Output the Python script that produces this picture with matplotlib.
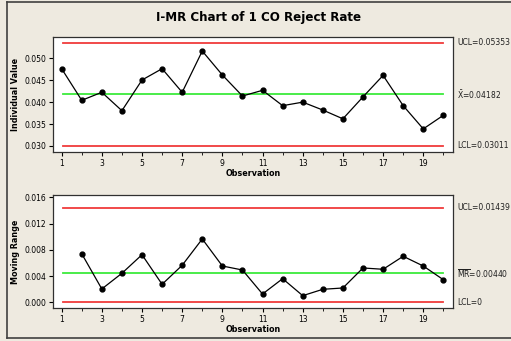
import matplotlib
matplotlib.use("Agg")
import matplotlib.pyplot as plt
from matplotlib.ticker import MultipleLocator

# I-MR chart data
obs = list(range(1, 21))
values = [0.04763, 0.04042, 0.04225, 0.03805, 0.04505, 0.04763, 0.04225, 0.05166,
          0.04619, 0.04140, 0.04270, 0.03920, 0.04000, 0.03820, 0.03620, 0.04120,
          0.04610, 0.03920, 0.03390, 0.03700]
mr_obs = list(range(2, 21))
mr = [0.00740, 0.00203, 0.00442, 0.00725, 0.00274, 0.00564, 0.00965, 0.00553,
      0.00492, 0.00126, 0.00360, 0.00101, 0.00198, 0.00218, 0.00523, 0.00503,
      0.00701, 0.00553, 0.00344]

i_ucl, i_center, i_lcl = 0.05353, 0.04182, 0.03011
mr_ucl, mr_center, mr_lcl = 0.01439, 0.00440, 0.0

i_labels = ["UCL=0.05353", r"$\bar{\mathrm{X}}$=0.04182", "LCL=0.03011"]
mr_labels = ["UCL=0.01439", r"$\overline{\mathrm{MR}}$=0.00440", "LCL=0"]

bg = "#EEEAE0"
red = "#F03C3C"
green = "#3CEB3C"
plt.rcParams["mathtext.fontset"] = "dejavusans"

fig = plt.figure(figsize=(5.11, 3.41), dpi=100, facecolor=bg)

# outer frame lines
fig.add_artist(plt.Line2D([7 / 511, 7 / 511], [3 / 341, 1 - 1.5 / 341], color="#404040", lw=1.2))
fig.add_artist(plt.Line2D([7 / 511, 1], [1 - 1.5 / 341, 1 - 1.5 / 341], color="#404040", lw=1.2))
fig.add_artist(plt.Line2D([7 / 511, 1], [3 / 341, 3 / 341], color="#404040", lw=1.2))

fig.text(259 / 511, 1 - 17 / 341, "I-MR Chart of 1 CO Reject Rate", ha="center", va="center",
         fontsize=8.6, fontweight="bold")

ax1 = fig.add_axes([53 / 511, 1 - 152 / 341, 400 / 511, 115 / 341])
ax2 = fig.add_axes([53 / 511, 1 - 308 / 341, 400 / 511, 113 / 341])


def style(ax):
    ax.set_facecolor("white")
    for s in ax.spines.values():
        s.set_color("#303030")
        s.set_linewidth(0.9)
    ax.set_xlim(0.57, 20.48)
    ax.xaxis.set_minor_locator(MultipleLocator(1))
    ax.set_xticks(range(1, 21, 2))
    ax.tick_params(labelsize=5.5, length=3, width=0.8, pad=2)
    ax.tick_params(which="minor", length=2, width=0.6)
    ax.set_xlabel("Observation", fontsize=5.8, fontweight="bold", labelpad=1)


# individual values chart
style(ax1)
ax1.axhline(i_ucl, xmin=0.025, xmax=0.975, color=red, lw=1.3)
ax1.axhline(i_lcl, xmin=0.025, xmax=0.975, color=red, lw=1.3)
ax1.axhline(i_center, xmin=0.025, xmax=0.975, color=green, lw=1.3)
ax1.plot(obs, values, color="black", lw=0.9, marker="o", markersize=3.5)
ax1.set_ylim(0.02863, 0.05486)
ax1.set_yticks([0.030, 0.035, 0.040, 0.045, 0.050])
ax1.set_yticklabels(["0.030", "0.035", "0.040", "0.045", "0.050"])
ax1.set_ylabel("Individual Value", fontsize=5.8, fontweight="bold", labelpad=3)
for yv, lab in zip([i_ucl, i_center, i_lcl], i_labels):
    ax1.text(1.01, yv, lab, transform=ax1.get_yaxis_transform(), fontsize=5.5,
             va="center", ha="left", color="#202020")

# moving range chart
style(ax2)
ax2.axhline(mr_ucl, xmin=0.025, xmax=0.975, color=red, lw=1.3)
ax2.axhline(mr_lcl, xmin=0.025, xmax=0.975, color=red, lw=1.3)
ax2.axhline(mr_center, xmin=0.025, xmax=0.975, color=green, lw=1.3)
ax2.plot(mr_obs, mr, color="black", lw=0.9, marker="o", markersize=3.5)
ax2.set_ylim(-0.00087, 0.01635)
ax2.set_yticks([0.000, 0.004, 0.008, 0.012, 0.016])
ax2.set_yticklabels(["0.000", "0.004", "0.008", "0.012", "0.016"])
ax2.set_ylabel("Moving Range", fontsize=5.8, fontweight="bold", labelpad=3)
for yv, lab in zip([mr_ucl, mr_center, mr_lcl], mr_labels):
    ax2.text(1.01, yv, lab, transform=ax2.get_yaxis_transform(), fontsize=5.5,
             va="center", ha="left", color="#202020")

fig.savefig("out.png", dpi=100, facecolor=bg)
